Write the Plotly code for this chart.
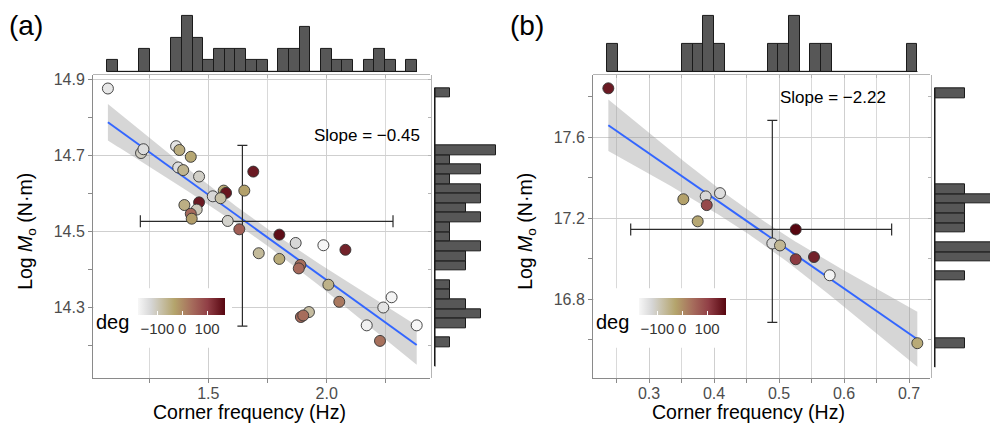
import numpy as np
import plotly.graph_objects as go

# ---------------- data ----------------
# Panel (a): corner frequency (Hz), log moment (N·m), colour value (deg)
freq_a = [1.076, 1.216, 1.226, 1.364, 1.378, 1.426, 1.373, 1.394, 1.461, 1.690,
          1.565, 1.575, 1.519, 1.552, 1.652, 1.399, 1.461, 1.451, 1.426, 1.430,
          1.582, 1.631, 1.800, 1.869, 1.986, 2.079, 1.713, 1.800, 1.889, 1.882,
          2.007, 2.053, 2.274, 2.239, 1.925, 1.891, 1.901, 2.169, 2.380, 2.225]
logm_a = [14.876, 14.706, 14.716, 14.724, 14.714, 14.696, 14.668, 14.661, 14.644, 14.657,
          14.607, 14.601, 14.592, 14.587, 14.607, 14.569, 14.576, 14.557, 14.546, 14.533,
          14.527, 14.505, 14.491, 14.469, 14.463, 14.451, 14.442, 14.427, 14.411, 14.402,
          14.359, 14.314, 14.326, 14.299, 14.287, 14.274, 14.278, 14.252, 14.252, 14.211]
deg_a = [-150, -105, -135, -145, -45, -35, -135, -60, -110, 150,
         -35, 155, -125, -80, -25, -50, 150, -100, 45, -20,
         -115, 60, 165, -125, -174, 140, -70, -40, 40, 45,
         -55, 25, -172, -145, -75, 45, 40, -165, -176, 35]

# Panel (b)
freq_b = [0.2374, 0.3528, 0.3872, 0.4092, 0.3888, 0.3749, 0.5257, 0.4897, 0.5015,
          0.5257, 0.5538, 0.5780, 0.7128]
logm_b = [17.841, 17.294, 17.308, 17.324, 17.265, 17.185, 17.145, 17.076, 17.066,
          16.998, 17.009, 16.919, 16.584]
deg_b = [150, -25, -125, -135, 90, -35, 174, -125, -65, 110, 140, -172, -40]

# Fitted slopes (reported on the panels)
slope_a = -0.45
slope_b = -2.22
t975 = {38: 2.024, 11: 2.201}   # Student t quantiles for the 95% band

# Crosshair summaries: centre, x low/high, y low/high
cross_a = dict(x=1.644, y=14.526, xlo=1.213, xhi=2.280, ylo=14.250, yhi=14.726)
cross_b = dict(x=0.4897, y=17.145, xlo=0.2718, xhi=0.6733, ylo=16.687, yhi=17.683)

# Marginal histogram bins: (low edge, high edge, number of bins)
bins_fa = (1.0735, 2.3814, 29)
bins_ma = (14.1435, 14.8775, 29)
bins_fb = (0.2355, 0.7130, 29)
bins_mb = (16.4652, 17.8410, 29)

deg_range = (-176, 174)
deg_ticks = [-100, 0, 100]
deg_ticktext = ["\u2212100", "0", "100"]

# ---------------- styling ----------------
W, H = 990, 430
FONT = "Liberation Sans, Arial, Helvetica, sans-serif"
colorscale = [[0.0, "#f7f7f7"], [0.15, "#d6d6d6"], [0.42, "#b4a46c"],
              [0.62, "#a66c5c"], [0.80, "#913f46"], [1.0, "#570610"]]
GRID = "#cfcfcf"
AXLINE = "#8a8a8a"
TICKFONT = dict(family=FONT, size=16, color="#4d4d4d")


def px_x(p):
    return p / W


def px_y(p):
    return 1 - p / H


def fit_band(x, y, slope, tval):
    x = np.asarray(x, float)
    y = np.asarray(y, float)
    n = len(x)
    xm, ym = x.mean(), y.mean()
    b = ym - slope * xm
    resid = y - (b + slope * x)
    s = np.sqrt((resid ** 2).sum() / (n - 2))
    sxx = ((x - xm) ** 2).sum()
    xs = np.linspace(x.min(), x.max(), 100)
    yhat = b + slope * xs
    se = s * np.sqrt(1.0 / n + (xs - xm) ** 2 / sxx)
    return xs, yhat, yhat - tval * se, yhat + tval * se


def hist(values, spec):
    lo, hi, nb = spec
    edges = np.linspace(lo, hi, nb + 1)
    counts, _ = np.histogram(values, bins=edges)
    centers = 0.5 * (edges[:-1] + edges[1:])
    return centers, counts, edges[1] - edges[0], lo, hi


fig = go.Figure()

panels = [
    dict(name="a", fx=freq_a, my=logm_a, deg=deg_a, slope=slope_a, cross=cross_a,
         bx=bins_fa, by=bins_ma, ax=(93, 430), hx=(432, 499),
         xr=[1.0131, 2.4362], yr=[14.112, 14.9107], xd=0.5, xm=0.25, x0=0,
         yd=0.2, ym=0.1, y0=14.3, txr=[-0.25, 5.25], ryr=[-0.2, 4.2],
         slope_pos=(2.169, 14.751), label="(a)", lab_x=26, xt_x=249, yt_x=27,
         cbx=182, deg_x=112, box=(93.5, 232), ax_ids=("", "2", "3"), cax="coloraxis"),
    dict(name="b", fx=freq_b, my=logm_b, deg=deg_b, slope=slope_b, cross=cross_b,
         bx=bins_fb, by=bins_mb, ax=(593, 930), hx=(932, 990),
         xr=[0.2138, 0.7323], yr=[16.410, 17.905], xd=0.1, xm=0.05, x0=0,
         yd=0.4, ym=0.2, y0=16.4, txr=[-0.1, 2.1], ryr=[-0.1, 1.8333],
         slope_pos=(0.5835, 17.797), label="(b)", lab_x=527, xt_x=748, yt_x=527,
         cbx=682, deg_x=612, box=(593.5, 730), ax_ids=("4", "5", "6"), cax="coloraxis2"),
]

layout = dict(
    width=W, height=H, margin=dict(l=0, r=0, t=0, b=0),
    paper_bgcolor="white", plot_bgcolor="white", showlegend=False,
    bargap=0, font=dict(family=FONT, color="black"),
    annotations=[], shapes=[],
)

PLOT_TOP, PLOT_BOT = 72, 378
HIST_TOP, HIST_BOT = 9, 71

for p in panels:
    s_id, t_id, r_id = p["ax_ids"]
    xs_name, ys_name = "x" + s_id, "y" + s_id
    xt_name, yt_name = "x" + t_id, "y" + t_id
    xr_name, yr_name = "x" + r_id, "y" + r_id

    # regression line with 95% confidence band
    xs, yhat, lo, hi = fit_band(p["fx"], p["my"], p["slope"], t975[len(p["fx"]) - 2])
    fig.add_trace(go.Scatter(
        x=np.concatenate([xs, xs[::-1]]), y=np.concatenate([hi, lo[::-1]]),
        fill="toself", fillcolor="rgba(153,153,153,0.4)", line=dict(width=0),
        mode="lines", hoverinfo="skip", xaxis=xs_name, yaxis=ys_name))
    fig.add_trace(go.Scatter(
        x=xs, y=yhat, mode="lines", line=dict(color="#3366FF", width=2),
        xaxis=xs_name, yaxis=ys_name))

    # crosshair error bars
    c = p["cross"]
    fig.add_trace(go.Scatter(
        x=[c["x"]], y=[c["y"]], mode="markers",
        marker=dict(size=1, color="rgba(0,0,0,0)"),
        error_x=dict(type="data", symmetric=False, array=[c["xhi"] - c["x"]],
                     arrayminus=[c["x"] - c["xlo"]], color="#2b2b2b", thickness=1.2, width=6),
        error_y=dict(type="data", symmetric=False, array=[c["yhi"] - c["y"]],
                     arrayminus=[c["y"] - c["ylo"]], color="#2b2b2b", thickness=1.2, width=5),
        xaxis=xs_name, yaxis=ys_name))

    # points coloured by deg
    fig.add_trace(go.Scatter(
        x=p["fx"], y=p["my"], mode="markers",
        marker=dict(size=11, color=p["deg"], coloraxis=p["cax"],
                    line=dict(color="#333333", width=0.9)),
        xaxis=xs_name, yaxis=ys_name))

    # top marginal histogram (frequency)
    cx, cnt, w, lo_e, hi_e = hist(p["fx"], p["bx"])
    fig.add_trace(go.Scatter(x=[lo_e, hi_e], y=[0, 0], mode="lines",
                             line=dict(color="#1a1a1a", width=1),
                             xaxis=xt_name, yaxis=yt_name))
    fig.add_trace(go.Bar(x=cx, y=cnt, width=w, marker=dict(color="#575757",
                         line=dict(color="#1a1a1a", width=1)),
                         xaxis=xt_name, yaxis=yt_name))

    # right marginal histogram (log moment)
    cy, cnt, w, lo_e, hi_e = hist(p["my"], p["by"])
    fig.add_trace(go.Scatter(x=[0, 0], y=[lo_e, hi_e], mode="lines",
                             line=dict(color="#1a1a1a", width=1),
                             xaxis=xr_name, yaxis=yr_name))
    fig.add_trace(go.Bar(y=cy, x=cnt, width=w, orientation="h",
                         marker=dict(color="#575757", line=dict(color="#1a1a1a", width=1)),
                         xaxis=xr_name, yaxis=yr_name))

    ax0, ax1 = p["ax"]
    dom_x = [px_x(ax0), px_x(ax1)]
    dom_y = [px_y(PLOT_BOT), px_y(PLOT_TOP)]
    xk = "xaxis" + s_id
    yk = "yaxis" + s_id
    layout[xk] = dict(
        domain=dom_x, range=p["xr"], anchor=ys_name, tick0=p["x0"], dtick=p["xd"],
        tickformat=".1f", showgrid=True, gridcolor=GRID, gridwidth=1,
        showline=True, linecolor=AXLINE, linewidth=1, ticks="outside", ticklen=4,
        tickcolor=AXLINE, tickfont=TICKFONT, zeroline=False, ticklabelstandoff=-4,
        minor=dict(dtick=p["xm"], showgrid=True, gridcolor="#d9d9d9", gridwidth=1,
                   ticks="outside", ticklen=4, tickcolor=AXLINE))
    layout[yk] = dict(
        domain=dom_y, range=p["yr"], anchor=xs_name, tick0=p["y0"], dtick=p["yd"],
        tickformat=".1f", showgrid=True, gridcolor=GRID, gridwidth=1,
        showline=True, linecolor=AXLINE, linewidth=1, ticks="outside", ticklen=4,
        tickcolor=AXLINE, tickfont=TICKFONT, zeroline=False,
        minor=dict(dtick=p["ym"], showgrid=False, ticks="outside", ticklen=4,
                   tickcolor=AXLINE))

    # top histogram axes
    layout["xaxis" + t_id] = dict(
        domain=dom_x, range=p["xr"], anchor=yt_name, tick0=p["x0"], dtick=p["xm"],
        showgrid=False, showticklabels=False, showline=True, linecolor="#b5b5b5",
        ticks="outside", ticklen=3, tickcolor="#b5b5b5", zeroline=False)
    layout["yaxis" + t_id] = dict(
        domain=[px_y(HIST_BOT), px_y(HIST_TOP)], range=p["txr"], anchor=xt_name,
        visible=False)

    # right histogram axes
    hx0, hx1 = p["hx"]
    layout["xaxis" + r_id] = dict(
        domain=[px_x(hx0), px_x(hx1)], range=p["ryr"], anchor=yr_name, visible=False)
    layout["yaxis" + r_id] = dict(
        domain=dom_y, range=p["yr"], anchor=xr_name, tick0=p["y0"], dtick=p["ym"],
        showgrid=False, showticklabels=False, showline=True, linecolor="#b5b5b5",
        ticks="outside", ticklen=3, tickcolor="#b5b5b5", zeroline=False)

    # colour scale + legend box
    layout[p["cax"]] = dict(
        colorscale=colorscale, cmin=deg_range[0], cmax=deg_range[1],
        colorbar=dict(orientation="h", x=px_x(p["cbx"]), xanchor="center",
                      y=px_y(297), yanchor="top", len=87, lenmode="pixels",
                      thickness=17, thicknessmode="pixels", xpad=0, ypad=0,
                      outlinewidth=0, tickvals=deg_ticks, ticktext=deg_ticktext,
                      ticks="inside", ticklen=4, tickcolor="white",
                      tickfont=dict(family=FONT, size=15, color="#333333"),
                      ticklabelposition="outside"))
    b0, b1 = p["box"]
    layout["shapes"].append(dict(
        type="rect", xref="paper", yref="paper", layer="above",
        x0=px_x(b0), x1=px_x(b1), y0=px_y(347), y1=px_y(287),
        fillcolor="white", line=dict(width=0)))

    ann = layout["annotations"]
    ann.append(dict(text="deg", xref="paper", yref="paper", x=px_x(p["deg_x"]),
                    y=px_y(321), xanchor="center", yanchor="middle", showarrow=False,
                    font=dict(family=FONT, size=20, color="black")))
    ann.append(dict(text=f"Slope = \u2212{abs(p['slope']):.2f}", xref=xs_name, yref=ys_name,
                    x=p["slope_pos"][0], y=p["slope_pos"][1], xanchor="center",
                    yanchor="middle", showarrow=False,
                    font=dict(family=FONT, size=17, color="black")))
    ann.append(dict(text=p["label"], xref="paper", yref="paper", x=px_x(p["lab_x"]),
                    y=px_y(22), xanchor="center", yanchor="middle", showarrow=False,
                    font=dict(family=FONT, size=28, color="black")))
    ann.append(dict(text="Corner frequency (Hz)", xref="paper", yref="paper",
                    x=px_x(p["xt_x"]), y=px_y(412), xanchor="center", yanchor="middle",
                    showarrow=False, font=dict(family=FONT, size=19.5, color="black")))
    ann.append(dict(text="Log <i>M</i><sub>o</sub> (N\u00b7m)", xref="paper", yref="paper",
                    x=px_x(p["yt_x"]), y=px_y(230), xanchor="center", yanchor="middle",
                    textangle=-90, showarrow=False,
                    font=dict(family=FONT, size=19.5, color="black")))

fig.update_layout(**layout)
fig.write_html("out.html")
